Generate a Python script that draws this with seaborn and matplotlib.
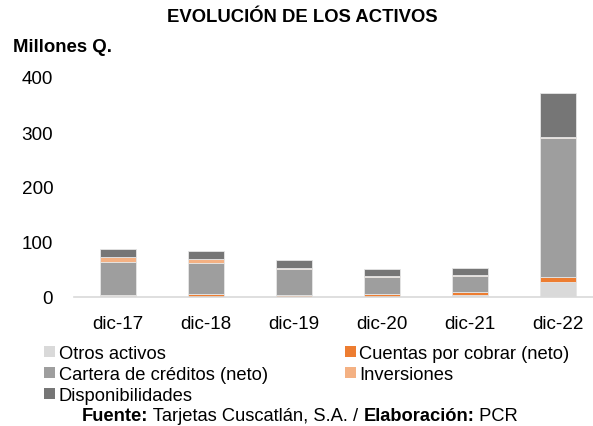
import matplotlib
matplotlib.use("Agg")
import matplotlib.pyplot as plt
from matplotlib.patches import Patch
import seaborn as sns
import pandas as pd
import numpy as np

categorias = ["dic-17", "dic-18", "dic-19", "dic-20", "dic-21", "dic-22"]
otros_activos = [1, 0.5, 0.5, 0.5, 4, 28]
cuentas_por_cobrar = [3, 5, 4, 4.5, 5, 9]
cartera_creditos = [60, 56, 46, 32, 30, 253]
inversiones = [8, 7, 3, 1, 1, 1]
disponibilidades = [16, 15, 14, 13, 12, 80]

series = [
    ("Otros activos", otros_activos, "#d9d9d9"),
    ("Cuentas por cobrar (neto)", cuentas_por_cobrar, "#ed7d31"),
    ("Cartera de créditos (neto)", cartera_creditos, "#9e9e9e"),
    ("Inversiones", inversiones, "#f4b183"),
    ("Disponibilidades", disponibilidades, "#767676"),
]

sns.set_theme(style="white")
plt.rcParams["font.family"] = ["Liberation Sans", "DejaVu Sans"]
plt.rcParams["text.color"] = "black"

W, H = 593, 427
fig = plt.figure(figsize=(W / 100, H / 100), dpi=100)
ax = fig.add_axes([74 / W, 1 - 298 / H, 528 / W, 220 / H])

bottom = np.zeros(len(categorias))
for name, vals, col in series:
    df = pd.DataFrame({"cat": categorias, "val": vals})
    sns.barplot(data=df, x="cat", y="val", color=col, ax=ax, width=0.41,
                bottom=bottom.copy(), edgecolor="#e6e6e6", linewidth=0.6,
                saturation=1)
    bottom += np.array(vals, dtype=float)

ax.set_xlim(-0.5, 5.5)
ax.set_ylim(0, 400)
ax.set_yticks([0, 100, 200, 300, 400])
ax.set_xlabel("")
ax.set_ylabel("")
for s in ["top", "right", "left"]:
    ax.spines[s].set_visible(False)
ax.spines["bottom"].set_color("#d9d9d9")
ax.spines["bottom"].set_linewidth(1.2)
ax.tick_params(axis="y", length=0, pad=15, labelsize=13.6, colors="black")
ax.tick_params(axis="x", length=0, pad=13, labelsize=13.6, colors="black")

fig.text(302 / W, 1 - 18 / H, "EVOLUCIÓN DE LOS ACTIVOS", ha="center",
         va="center", fontsize=13.3, fontweight="bold", color="black")
fig.text(13 / W, 1 - 47 / H, "Millones Q.", ha="left", va="center",
         fontsize=13.4, fontweight="bold", color="black")

order = [0, 2, 4, 1, 3]
handles = [Patch(facecolor=series[i][2], edgecolor="none") for i in order]
labels = [series[i][0] for i in order]
fig.legend(handles, labels, ncol=2, loc="upper left",
           bbox_to_anchor=(44 / W, 1 - 346 / H), frameon=False,
           fontsize=13.2, handlelength=0.6, handleheight=0.6,
           handletextpad=0.2, labelspacing=0.22, columnspacing=4.2,
           borderpad=0, borderaxespad=0, labelcolor="black")

y_src = 1 - 416.5 / H
fs = 13.2
t1 = fig.text(82 / W, y_src, "Fuente:", fontweight="bold",
              fontsize=fs, va="center", ha="left")
fig.canvas.draw()
r = fig.canvas.get_renderer()
bb = t1.get_window_extent(r)
x = bb.x1 / fig.bbox.width
t2 = fig.text(x, y_src, " Tarjetas Cuscatlán, S.A. / ", fontsize=fs,
              va="center", ha="left")
bb = t2.get_window_extent(r)
x = bb.x1 / fig.bbox.width
t3 = fig.text(x, y_src, "Elaboración:", fontsize=fs,
              fontweight="bold", va="center", ha="left")
bb = t3.get_window_extent(r)
x = bb.x1 / fig.bbox.width
fig.text(x, y_src, " PCR", fontsize=fs, va="center", ha="left")

fig.savefig("out.png", dpi=100)
